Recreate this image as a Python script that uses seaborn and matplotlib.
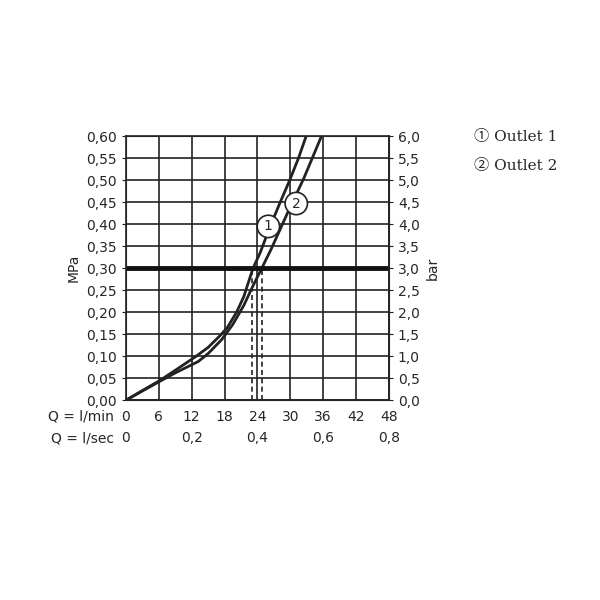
import numpy as np
import matplotlib.pyplot as plt
import seaborn as sns

# curve readings (l/min, MPa)
q1 = [0, 3, 6.2, 9, 12.6, 15, 17.2, 18.5, 20.2, 21.5, 23.2, 24.5, 26.3, 28, 29.9, 31.5, 32.9]
p1 = [0, 0.022, 0.045, 0.068, 0.098, 0.12, 0.147, 0.165, 0.20, 0.235, 0.30, 0.335, 0.394, 0.445, 0.50, 0.55, 0.60]
q2 = [0, 3, 6.2, 9, 13.2, 15, 17.5, 19.5, 21.5, 23, 24.8, 26.5, 29.3, 32.5, 35.7]
p2 = [0, 0.021, 0.043, 0.062, 0.088, 0.106, 0.138, 0.172, 0.215, 0.255, 0.30, 0.343, 0.42, 0.505, 0.60]
dash_q = [23.1, 24.9]
x_ticks = [0, 6, 12, 18, 24, 30, 36, 42, 48]
sec_labels = ["0", "0,2", "0,4", "0,6", "0,8"]

sns.set_style("white")
plt.rcParams['font.family'] = ['DejaVu Sans']
fig = plt.figure(figsize=(6, 6), dpi=100)
ax = fig.add_axes([0.21, 0.333, 0.438, 0.44])

sns.lineplot(x=q1, y=p1, ax=ax, color="#222", lw=2, sort=False)
sns.lineplot(x=q2, y=p2, ax=ax, color="#222", lw=2, sort=False)
for q in dash_q:
    ax.plot([q, q], [0, 0.3], color="#222", lw=1.2, ls=(0, (3, 2)))
ax.axhline(0.30, color="#111", lw=3.5)

ax.set_xlim(0, 48)
ax.set_ylim(0, 0.6)
ax.set_xticks(x_ticks)
ax.set_yticks(np.arange(0, 0.601, 0.05))
ax.grid(True, color="#222", lw=1.2)
ax.set_xticklabels([])
ax.set_yticklabels([f"{v:.2f}".replace(".", ",") for v in ax.get_yticks()], fontsize=10)
ax.tick_params(length=3, direction="out", color="#222")
for s in ax.spines.values():
    s.set_color("#222"); s.set_linewidth(1.2)
ax.set_ylabel("MPa", fontsize=10)

ax2 = ax.twinx()
ax2.set_ylim(0, 6)
ax2.set_yticks(np.arange(0, 6.01, 0.5))
ax2.set_yticklabels([f"{v:.1f}".replace(".", ",") for v in np.arange(0, 6.01, 0.5)], fontsize=10)
ax2.set_ylabel("bar", fontsize=10, rotation=90)
ax2.tick_params(length=3, color="#222")

# bottom scales
for x in x_ticks:
    ax.text(x, -0.022, str(x), ha="center", va="top", fontsize=10)
ax.text(-2.2, -0.022, "Q = l/min", ha="right", va="top", fontsize=10)
for i, lab in enumerate(sec_labels):
    ax.text(i * 12, -0.07, lab, ha="center", va="top", fontsize=10)
ax.text(-2.2, -0.07, "Q = l/sec", ha="right", va="top", fontsize=10)

for x, y, t in [(26.0, 0.395, "1"), (31.1, 0.447, "2")]:
    ax.text(x, y, t, ha="center", va="center", fontsize=10,
            bbox=dict(boxstyle="circle,pad=0.3", fc="white", ec="#222", lw=1.2))

fam = ["DejaVu Serif", "Noto Sans CJK SC"]
fig.text(0.79, 0.765, "\u2460 Outlet 1", fontsize=11, family=fam)
fig.text(0.79, 0.717, "\u2461 Outlet 2", fontsize=11, family=fam)

fig.savefig("out.png", dpi=100)
